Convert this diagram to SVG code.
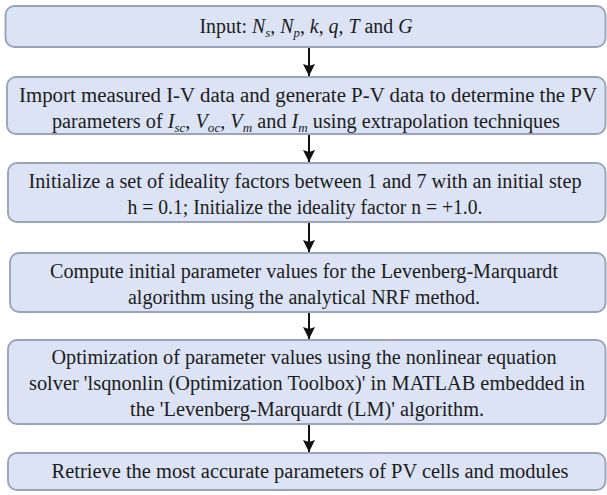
<svg xmlns="http://www.w3.org/2000/svg" width="607" height="495" viewBox="0 0 607 495">
  <style>
    .box { fill: #dbe3f4; stroke: #99a4ba; stroke-width: 1.9; }
    .txt { font-size: 20px; fill: #1c1c1c; text-anchor: middle; }
    .it { font-style: italic; }
    .sub { font-size: 13px; font-style: italic; }
    .conn { stroke: #111; stroke-width: 2; fill: none; }
  </style>
  <defs>
    <marker id="arrow" markerUnits="userSpaceOnUse" markerWidth="12" markerHeight="14" refX="12" refY="6" orient="auto">
      <path d="M0,0 L12,6 L0,12 L2,6 z" fill="#111"/>
    </marker>
  </defs>

  <g font-family="'Liberation Serif', 'Times New Roman', serif">
  <!-- step 1: inputs -->
  <g id="input">
    <rect class="box" x="5.5" y="6" width="600" height="41" rx="9"/>
    <text class="txt" x="306" y="33" textLength="213" lengthAdjust="spacingAndGlyphs">Input: <tspan class="it">N</tspan><tspan class="sub" dy="4">s</tspan><tspan dy="-4">, </tspan><tspan class="it">N</tspan><tspan class="sub" dy="4">p</tspan><tspan dy="-4">, </tspan><tspan class="it">k</tspan>, <tspan class="it">q</tspan>, <tspan class="it">T</tspan> and <tspan class="it">G</tspan></text>
  </g>

  <!-- step 2: import measured data -->
  <g id="import">
    <rect class="box" x="7" y="77" width="598.5" height="57" rx="9"/>
    <text class="txt" x="308" y="102" textLength="578" lengthAdjust="spacingAndGlyphs">Import measured I-V data and generate P-V data to determine the PV</text>
    <text class="txt" x="306" y="128" textLength="508" lengthAdjust="spacingAndGlyphs">parameters of <tspan class="it">I</tspan><tspan class="sub" dy="4">sc</tspan><tspan dy="-4">, </tspan><tspan class="it">V</tspan><tspan class="sub" dy="4">oc</tspan><tspan dy="-4">, </tspan><tspan class="it">V</tspan><tspan class="sub" dy="4">m</tspan><tspan dy="-4"> and </tspan><tspan class="it">I</tspan><tspan class="sub" dy="4">m</tspan><tspan dy="-4"> using extrapolation techniques</tspan></text>
  </g>

  <!-- step 3: ideality factors -->
  <g id="init">
    <rect class="box" x="8" y="163" width="597.5" height="59" rx="9"/>
    <text class="txt" x="305" y="188" textLength="553" lengthAdjust="spacingAndGlyphs">Initialize a set of ideality factors between 1 and 7 with an initial step</text>
    <text class="txt" x="305" y="214" textLength="355" lengthAdjust="spacingAndGlyphs">h = 0.1; Initialize the ideality factor n = +1.0.</text>
  </g>

  <!-- step 4: initial parameter values -->
  <g id="compute">
    <rect class="box" x="10" y="253" width="595.5" height="59" rx="9"/>
    <text class="txt" x="304" y="278" textLength="508" lengthAdjust="spacingAndGlyphs">Compute initial parameter values for the Levenberg-Marquardt</text>
    <text class="txt" x="304" y="304" textLength="352" lengthAdjust="spacingAndGlyphs">algorithm using the analytical NRF method.</text>
  </g>

  <!-- step 5: LM optimisation -->
  <g id="optimize">
    <rect class="box" x="8" y="340" width="597.5" height="84" rx="9"/>
    <text class="txt" x="304" y="364" textLength="505" lengthAdjust="spacingAndGlyphs">Optimization of parameter values using the nonlinear equation</text>
    <text class="txt" x="307" y="390" textLength="556" lengthAdjust="spacingAndGlyphs">solver 'lsqnonlin (Optimization Toolbox)' in MATLAB embedded in</text>
    <text class="txt" x="307" y="416" textLength="354" lengthAdjust="spacingAndGlyphs">the 'Levenberg-Marquardt (LM)' algorithm.</text>
  </g>

  <!-- step 6: result -->
  <g id="retrieve">
    <rect class="box" x="8" y="453" width="597.5" height="37" rx="9"/>
    <text class="txt" x="310" y="478" textLength="517" lengthAdjust="spacingAndGlyphs">Retrieve the most accurate parameters of PV cells and modules</text>
  </g>
  </g>

  <!-- connectors -->
  <g id="connectors">
    <line class="conn" x1="309" y1="48" x2="309" y2="76" marker-end="url(#arrow)"/>
    <line class="conn" x1="309" y1="135" x2="309" y2="162" marker-end="url(#arrow)"/>
    <line class="conn" x1="309" y1="223" x2="309" y2="252" marker-end="url(#arrow)"/>
    <line class="conn" x1="309" y1="313" x2="309" y2="339" marker-end="url(#arrow)"/>
    <line class="conn" x1="309" y1="425" x2="309" y2="452" marker-end="url(#arrow)"/>
  </g>
</svg>
